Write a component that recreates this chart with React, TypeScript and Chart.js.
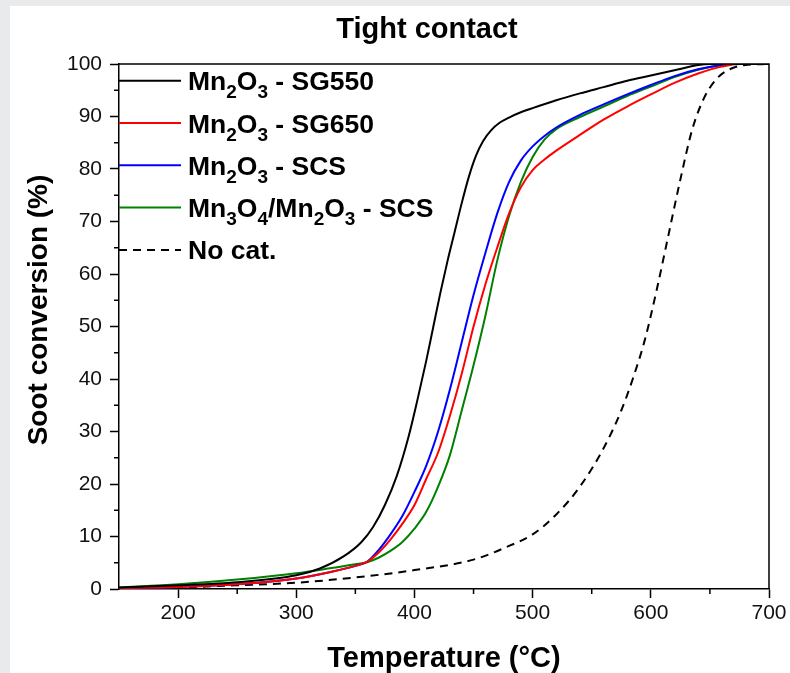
import React, { useEffect, useRef } from 'react';
import { Chart, registerables } from 'chart.js';

Chart.register(...registerables);

const FONT = '"Liberation Sans", Arial, Helvetica, sans-serif';

// ---- data ----
const sg550T = [150, 200, 250, 300, 320, 340, 355, 365, 375, 385, 395, 403, 410, 416, 422, 428, 434, 440, 446, 452, 458, 465, 472, 480, 490, 500, 520, 540, 560, 580, 600, 620, 640, 650, 700];
const sg550V = [0.3, 0.7, 1.3, 2.6, 3.9, 6.2, 8.9, 11.8, 16, 21.5, 29, 36.5, 43.5, 50, 56.5, 62.5, 68, 73.5, 78.5, 82.5, 85.3, 87.4, 88.8, 89.8, 90.8, 91.6, 93.1, 94.4, 95.6, 96.8, 97.8, 98.8, 99.8, 100, 100];

const sg650T = [150, 200, 250, 300, 330, 350, 360, 370, 380, 390, 400, 410, 420, 430, 440, 450, 460, 470, 480, 490, 500, 510, 520, 540, 560, 580, 600, 620, 640, 660, 675, 700];
const sg650V = [0.2, 0.4, 0.9, 2.0, 3.3, 4.4, 5.2, 7, 9.5, 12.5, 16, 21, 26, 33, 41, 50, 58, 65, 71.5, 76.5, 79.8, 81.8, 83.5, 86.5, 89.4, 91.9, 94.2, 96.4, 98.2, 99.5, 100, 100];

const scsT = [150, 200, 250, 300, 330, 350, 360, 370, 380, 390, 400, 410, 420, 430, 440, 450, 460, 470, 480, 490, 500, 510, 520, 540, 560, 580, 600, 620, 640, 660, 670, 700];
const scsV = [0.2, 0.4, 0.9, 2.0, 3.3, 4.4, 5.2, 7.5, 10.5, 14, 18.5, 23.5, 30, 38, 47, 56, 64, 71.5, 77.5, 81.6, 84.3, 86.3, 87.9, 90.3, 92.3, 94.2, 96, 97.7, 99, 99.8, 100, 100];

const mixT = [150, 200, 250, 300, 330, 350, 360, 370, 380, 390, 400, 410, 420, 430, 440, 450, 460, 470, 480, 490, 500, 510, 520, 540, 560, 580, 600, 620, 640, 660, 670, 700];
const mixV = [0.3, 0.9, 1.8, 3.0, 4.0, 4.7, 5.1, 6.0, 7.3, 9.0, 11.5, 14.7, 19.5, 25.5, 34, 42.6, 52, 62.5, 71, 77.5, 82.3, 85.6, 87.6, 89.9, 91.9, 93.9, 95.7, 97.5, 98.9, 99.8, 100, 100];

const noCatT = [150, 200, 250, 300, 350, 400, 450, 480, 500, 520, 540, 560, 575, 585, 595, 605, 615, 625, 635, 645, 655, 665, 680, 700];
const noCatV = [0.1, 0.3, 0.7, 1.2, 2.2, 3.6, 5.6, 8.2, 10.4, 14.2, 19.5, 26.8, 34, 40.2, 47.5, 57, 67.5, 78, 87.5, 93.5, 97, 98.8, 99.8, 100];

const seriesLabels = ['Mn₂O₃ - SG550', 'Mn₂O₃ - SG650', 'Mn₂O₃ - SCS', 'Mn₃O₄/Mn₂O₃ - SCS', 'No cat.'];
const seriesColors = ['#000000', '#ff0000', '#0000ff', '#008000', '#000000'];

const xTickValues = [200, 300, 400, 500, 600, 700];
const xMinorTicks = [250, 350, 450, 550, 650];
const yTickValues = [0, 10, 20, 30, 40, 50, 60, 70, 80, 90, 100];
const yMinorTicks = [5, 15, 25, 35, 45, 55, 65, 75, 85, 95];

const chartTitle = 'Tight contact';
const xAxisTitle = 'Temperature (°C)';
const yAxisTitle = 'Soot conversion (%)';

const toPoints = (t: number[], v: number[]) => t.map((x, i) => ({ x, y: v[i] }));

const SUBS = '₀₁₂₃₄₅₆₇₈₉';

function drawRich(ctx: CanvasRenderingContext2D, text: string, x: number, y: number, mainSize: number, subSize: number, subOffset: number) {
  let cx = x;
  let buf = '';
  const flush = () => {
    if (!buf) return;
    ctx.font = `bold ${mainSize}px ${FONT}`;
    ctx.fillText(buf, cx, y);
    cx += ctx.measureText(buf).width;
    buf = '';
  };
  for (const ch of text) {
    const idx = SUBS.indexOf(ch);
    if (idx >= 0) {
      flush();
      ctx.font = `bold ${subSize}px ${FONT}`;
      const d = String(idx);
      ctx.fillText(d, cx, y + subOffset);
      cx += ctx.measureText(d).width;
    } else {
      buf += ch;
    }
  }
  flush();
}

const decorPlugin = {
  id: 'decor',
  afterDraw(chart: any) {
    const { ctx, chartArea } = chart;
    const xs = chart.scales.x;
    const ys = chart.scales.y;
    const { left, right, top, bottom } = chartArea;
    ctx.save();
    ctx.strokeStyle = '#000';
    ctx.lineWidth = 1.5;
    // frame top & right
    ctx.beginPath();
    ctx.moveTo(left, top);
    ctx.lineTo(right, top);
    ctx.lineTo(right, bottom);
    ctx.stroke();
    // minor ticks
    ctx.beginPath();
    xMinorTicks.forEach((v) => {
      const px = xs.getPixelForValue(v);
      ctx.moveTo(px, bottom);
      ctx.lineTo(px, bottom + 5);
    });
    yMinorTicks.forEach((v) => {
      const py = ys.getPixelForValue(v);
      ctx.moveTo(left, py);
      ctx.lineTo(left - 5, py);
    });
    ctx.stroke();

    ctx.fillStyle = '#000';
    // title
    ctx.font = `bold 29px ${FONT}`;
    ctx.textAlign = 'center';
    ctx.textBaseline = 'alphabetic';
    ctx.fillText(chartTitle, 417, 32);
    // x title
    ctx.font = `bold 29px ${FONT}`;
    ctx.fillText(xAxisTitle, (left + right) / 2, 661);
    // y title
    ctx.save();
    ctx.translate(37, 304);
    ctx.rotate(-Math.PI / 2);
    ctx.font = `bold 28px ${FONT}`;
    ctx.fillText(yAxisTitle, 0, 0);
    ctx.restore();

    // legend
    ctx.textAlign = 'left';
    ctx.textBaseline = 'alphabetic';
    seriesLabels.forEach((lab, i) => {
      const ly = 74.7 + i * 42.3;
      ctx.save();
      ctx.strokeStyle = seriesColors[i];
      ctx.lineWidth = 2;
      if (i === 4) ctx.setLineDash([8, 6]);
      ctx.beginPath();
      ctx.moveTo(left, ly);
      ctx.lineTo(left + 62, ly);
      ctx.stroke();
      ctx.restore();
      ctx.fillStyle = '#000';
      drawRich(ctx, lab, left + 69, ly + 9.5, 26.5, 19, 8);
    });
    ctx.restore();
  },
};

export default function App() {
  const ref = useRef<HTMLCanvasElement>(null);
  useEffect(() => {
    if (!ref.current) return;
    const series = [
      toPoints(sg550T, sg550V),
      toPoints(sg650T, sg650V),
      toPoints(scsT, scsV),
      toPoints(mixT, mixV),
      toPoints(noCatT, noCatV),
    ];
    const chart = new Chart(ref.current, {
      type: 'line',
      data: {
        datasets: series.map((d, i) => ({
          label: seriesLabels[i],
          data: d,
          borderColor: seriesColors[i],
          backgroundColor: seriesColors[i],
          borderWidth: 2,
          borderDash: i === 4 ? [8, 6] : [],
          pointRadius: 0,
          cubicInterpolationMode: 'monotone' as const,
          fill: false,
        })),
      },
      options: {
        animation: false,
        responsive: false,
        devicePixelRatio: 1,
        layout: { padding: { left: 0, right: 21, top: 58, bottom: 0 } },
        plugins: {
          legend: { display: false },
          title: { display: false },
          tooltip: { enabled: false },
        },
        scales: {
          x: {
            type: 'linear',
            min: 150,
            max: 700,
            afterBuildTicks: (s: any) => {
              s.ticks = xTickValues.map((v) => ({ value: v }));
            },
            afterFit: (s: any) => {
              s.height = 84;
            },
            grid: { display: true, drawOnChartArea: false, drawTicks: true, tickLength: 9, tickColor: '#000', tickWidth: 1.5 },
            border: { display: true, color: '#000', width: 1.5 },
            ticks: { color: '#111', font: { family: FONT, size: 21 }, padding: 3, maxRotation: 0 },
          },
          y: {
            type: 'linear',
            min: 0,
            max: 100,
            afterBuildTicks: (s: any) => {
              s.ticks = yTickValues.map((v) => ({ value: v }));
            },
            afterFit: (s: any) => {
              s.width = 109;
            },
            grid: { display: true, drawOnChartArea: false, drawTicks: true, tickLength: 9, tickColor: '#000', tickWidth: 1.5 },
            border: { display: true, color: '#000', width: 1.5 },
            ticks: { color: '#111', font: { family: FONT, size: 21 }, padding: 8 },
          },
        },
      },
      plugins: [decorPlugin],
    });
    return () => chart.destroy();
  }, []);
  return (
    <div style={{ position: 'fixed', left: 0, top: 0, width: 790, height: 673, background: '#e9eaeb', overflow: 'hidden' }}>
      <div style={{ position: 'absolute', left: 10, top: 6, width: 780, height: 667, background: '#ffffff' }}>
        <canvas ref={ref} width={780} height={667} style={{ display: 'block' }} />
      </div>
    </div>
  );
}
